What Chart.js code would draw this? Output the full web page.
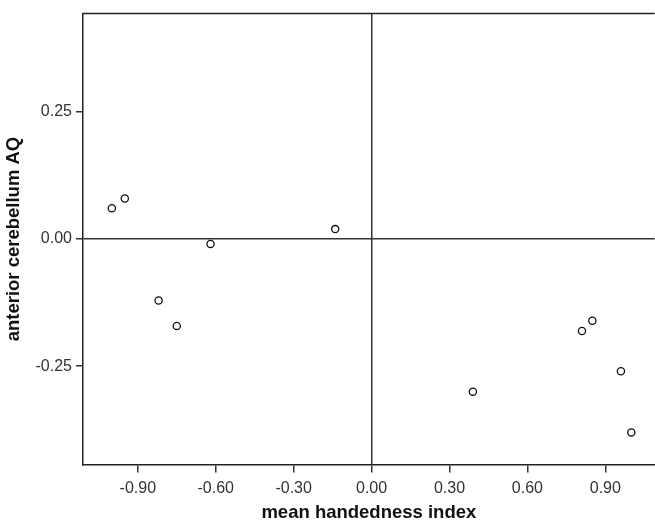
<!DOCTYPE html>
<html>
<head>
<meta charset="utf-8">
<script src="https://cdn.jsdelivr.net/npm/chart.js@4"></script>
<style>
  html, body { margin: 0; padding: 0; background: #fff; overflow: hidden; }
  #wrap { width: 660px; height: 524px; }
</style>
</head>
<body>
<div id="wrap"><canvas id="scatter"></canvas></div>
<script>
// values
const handedness = [-1.00, -0.95, -0.62, -0.14, -0.82, -0.75, 0.39, 0.81, 0.85, 0.96, 1.00];
const cerebellumAQ = [0.060, 0.079, -0.010, 0.019, -0.121, -0.171, -0.300, -0.181, -0.161, -0.260, -0.380];
const xTicks = [-0.90, -0.60, -0.30, 0.00, 0.30, 0.60, 0.90];
const yTicks = [-0.25, 0.00, 0.25];

const points = handedness.map((x, i) => ({ x: x, y: cerebellumAQ[i] }));

const fontFamily = '"Liberation Sans", Arial, sans-serif';
const axisColor = '#222';

// only the zero lines cross the plot
const zeroLine = ctx => (ctx.tick && ctx.tick.value === 0 ? '#333' : 'rgba(0,0,0,0)');

// closing line along the top of the plot
const topBorder = {
    id: 'topBorder',
    afterDraw(chart) {
        const { ctx, chartArea } = chart;
        ctx.save();
        ctx.strokeStyle = axisColor;
        ctx.lineWidth = 1.5;
        ctx.beginPath();
        ctx.moveTo(chartArea.left, chartArea.top);
        ctx.lineTo(chartArea.right, chartArea.top);
        ctx.stroke();
        ctx.restore();
    }
};

new Chart(document.getElementById('scatter'), {
    type: 'scatter',
    data: {
        datasets: [{
            data: points,
            pointRadius: 3.6,
            pointBorderWidth: 1.3,
            pointBorderColor: '#111',
            pointBackgroundColor: '#fff'
        }]
    },
    options: {
        responsive: true,
        maintainAspectRatio: false,
        animation: false,
        layout: { padding: { top: 8, right: 0, left: 0, bottom: 0 } },
        plugins: {
            legend: { display: false },
            tooltip: { enabled: false }
        },
        scales: {
            x: {
                type: 'linear',
                min: -1.111,
                max: 1.09,
                afterBuildTicks: s => { s.ticks = xTicks.map(v => ({ value: v })); },
                afterFit: s => { s.height = 59.5; s.paddingLeft = 0; s.paddingRight = 0; },
                ticks: {
                    callback: v => v.toFixed(2),
                    color: '#333',
                    padding: 6,
                    maxRotation: 0,
                    font: { family: fontFamily, size: 16 }
                },
                grid: {
                    color: zeroLine,
                    lineWidth: 1.5,
                    tickColor: '#333',
                    tickLength: 8,
                    drawOnChartArea: true
                },
                border: { display: true, color: axisColor, width: 1.5 },
                title: {
                    display: true,
                    text: 'mean handedness index',
                    color: '#111',
                    padding: { top: 0, bottom: 0 },
                    font: { family: fontFamily, size: 18.5, weight: 'bold' }
                }
            },
            y: {
                type: 'linear',
                min: -0.443,
                max: 0.442,
                afterBuildTicks: s => { s.ticks = yTicks.map(v => ({ value: v })); },
                afterFit: s => { s.width = 83; },
                ticks: {
                    callback: v => v.toFixed(2),
                    color: '#333',
                    padding: 4,
                    font: { family: fontFamily, size: 16 }
                },
                grid: {
                    color: zeroLine,
                    lineWidth: 1.5,
                    tickColor: '#333',
                    tickLength: 7,
                    drawOnChartArea: true
                },
                border: { display: true, color: axisColor, width: 1.5 },
                title: {
                    display: true,
                    text: 'anterior cerebellum AQ',
                    color: '#111',
                    padding: { top: 3, bottom: 4 },
                    font: { family: fontFamily, size: 18.5, weight: 'bold' }
                }
            }
        }
    },
    plugins: [topBorder]
});
</script>
</body>
</html>
